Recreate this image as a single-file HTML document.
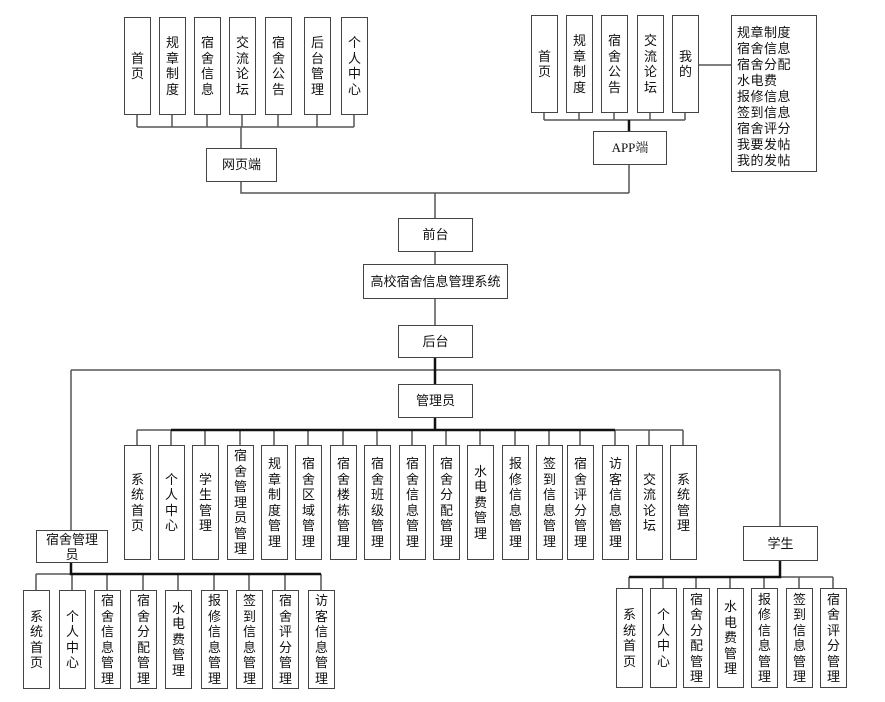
<!DOCTYPE html>
<html><head><meta charset="utf-8"><style>
body{margin:0;width:885px;height:702px;background:#fff;position:relative;overflow:hidden;font-family:"Liberation Sans","Noto Sans CJK SC",sans-serif;font-size:13px;color:#111}
.b{position:absolute;box-sizing:border-box;border:1.5px solid #444;background:#fff;display:flex;align-items:center;justify-content:center;text-align:center;line-height:15.5px}
svg{position:absolute;left:0;top:0}
</style></head><body>
<svg width="885" height="702">
<g stroke="#555" stroke-width="1.5" fill="none">
<!-- web -->
<path d="M137 115V127M172 115V127M207 115V127M242 115V127M278 115V127M317 115V127M354 115V127M137 127H354M241 127V148"/>
<path d="M241 181V193H629M629 164V193M435 193V218M435 251V264M435 298V325"/>
<!-- app -->
<path d="M544 113V120M579 113V120M614 113V120M650 113V120M685 113V120M544 120H685M698 65H731"/>
<!-- backend -->
<path d="M71 370H780M71 370V530M780 370V526"/>
<path d="M137 430V445M171 430V445M205 430V445M240 430V445M274 430V445M308 430V445M343 430V445M377 430V445M412 430V445M446 430V445M480 430V445M515 430V445M549 430V445M580 430V445M615 430V445M649 430V445M683 430V445M137 430H683"/>
<path d="M36 574H321M36 574V590M72 574V590M107 574V590M143 574V590M178 574V590M214 574V590M249 574V590M285 574V590M321 574V590"/>
<path d="M629 577H833M629 577V588M663 577V588M696 577V588M730 577V588M764 577V588M799 577V588M833 577V588"/>
</g>
<g stroke="#111" stroke-width="2.5" fill="none">
<path d="M629 120V131M435 357V384M435 417V430M171 430H615M71 562V574H321M780 560V577H629"/>
</g>
</svg>

<div class="b" style="left:124px;top:17px;width:27px;height:98px">首<br>页</div>
<div class="b" style="left:159px;top:17px;width:27px;height:98px">规<br>章<br>制<br>度</div>
<div class="b" style="left:194px;top:17px;width:27px;height:98px">宿<br>舍<br>信<br>息</div>
<div class="b" style="left:229px;top:17px;width:27px;height:98px">交<br>流<br>论<br>坛</div>
<div class="b" style="left:265px;top:17px;width:27px;height:98px">宿<br>舍<br>公<br>告</div>
<div class="b" style="left:304px;top:17px;width:27px;height:98px">后<br>台<br>管<br>理</div>
<div class="b" style="left:341px;top:17px;width:27px;height:98px">个<br>人<br>中<br>心</div>
<div class="b" style="left:206px;top:148px;width:71px;height:34px">网页端</div>

<div class="b" style="left:531px;top:15px;width:27px;height:98px">首<br>页</div>
<div class="b" style="left:566px;top:15px;width:27px;height:98px">规<br>章<br>制<br>度</div>
<div class="b" style="left:601px;top:15px;width:27px;height:98px">宿<br>舍<br>公<br>告</div>
<div class="b" style="left:637px;top:15px;width:27px;height:98px">交<br>流<br>论<br>坛</div>
<div class="b" style="left:672px;top:15px;width:27px;height:98px">我<br>的</div>
<div class="b" style="left:593px;top:131px;width:74px;height:34px;font-family:'Liberation Serif','Noto Serif CJK SC',serif">APP端</div>
<div class="b" style="left:731px;top:15px;width:86px;height:157px;align-items:flex-start;justify-content:flex-start;text-align:left;padding:9px 0 0 5px;line-height:16px;letter-spacing:0.5px">规章制度<br>宿舍信息<br>宿舍分配<br>水电费<br>报修信息<br>签到信息<br>宿舍评分<br>我要发帖<br>我的发帖</div>

<div class="b" style="left:398px;top:218px;width:75px;height:34px">前台</div>
<div class="b" style="left:363px;top:264px;width:145px;height:35px">高校宿舍信息管理系统</div>
<div class="b" style="left:398px;top:325px;width:75px;height:33px">后台</div>
<div class="b" style="left:398px;top:384px;width:75px;height:34px">管理员</div>

<div class="b" style="left:124px;top:445px;width:27px;height:115px">系<br>统<br>首<br>页</div>
<div class="b" style="left:158px;top:445px;width:27px;height:115px">个<br>人<br>中<br>心</div>
<div class="b" style="left:192px;top:445px;width:27px;height:115px">学<br>生<br>管<br>理</div>
<div class="b" style="left:227px;top:445px;width:27px;height:115px">宿<br>舍<br>管<br>理<br>员<br>管<br>理</div>
<div class="b" style="left:261px;top:445px;width:27px;height:115px">规<br>章<br>制<br>度<br>管<br>理</div>
<div class="b" style="left:295px;top:445px;width:27px;height:115px">宿<br>舍<br>区<br>域<br>管<br>理</div>
<div class="b" style="left:330px;top:445px;width:27px;height:115px">宿<br>舍<br>楼<br>栋<br>管<br>理</div>
<div class="b" style="left:364px;top:445px;width:27px;height:115px">宿<br>舍<br>班<br>级<br>管<br>理</div>
<div class="b" style="left:399px;top:445px;width:27px;height:115px">宿<br>舍<br>信<br>息<br>管<br>理</div>
<div class="b" style="left:433px;top:445px;width:27px;height:115px">宿<br>舍<br>分<br>配<br>管<br>理</div>
<div class="b" style="left:467px;top:445px;width:27px;height:115px">水<br>电<br>费<br>管<br>理</div>
<div class="b" style="left:502px;top:445px;width:27px;height:115px">报<br>修<br>信<br>息<br>管<br>理</div>
<div class="b" style="left:536px;top:445px;width:27px;height:115px">签<br>到<br>信<br>息<br>管<br>理</div>
<div class="b" style="left:567px;top:445px;width:27px;height:115px">宿<br>舍<br>评<br>分<br>管<br>理</div>
<div class="b" style="left:602px;top:445px;width:27px;height:115px">访<br>客<br>信<br>息<br>管<br>理</div>
<div class="b" style="left:636px;top:445px;width:27px;height:115px">交<br>流<br>论<br>坛</div>
<div class="b" style="left:670px;top:445px;width:27px;height:115px">系<br>统<br>管<br>理</div>

<div class="b" style="left:36px;top:530px;width:72px;height:33px;line-height:15px">宿舍管理<br>员</div>
<div class="b" style="left:23px;top:590px;width:27px;height:99px">系<br>统<br>首<br>页</div>
<div class="b" style="left:59px;top:590px;width:27px;height:99px">个<br>人<br>中<br>心</div>
<div class="b" style="left:94px;top:590px;width:27px;height:99px">宿<br>舍<br>信<br>息<br>管<br>理</div>
<div class="b" style="left:130px;top:590px;width:27px;height:99px">宿<br>舍<br>分<br>配<br>管<br>理</div>
<div class="b" style="left:165px;top:590px;width:27px;height:99px">水<br>电<br>费<br>管<br>理</div>
<div class="b" style="left:201px;top:590px;width:27px;height:99px">报<br>修<br>信<br>息<br>管<br>理</div>
<div class="b" style="left:236px;top:590px;width:27px;height:99px">签<br>到<br>信<br>息<br>管<br>理</div>
<div class="b" style="left:272px;top:590px;width:27px;height:99px">宿<br>舍<br>评<br>分<br>管<br>理</div>
<div class="b" style="left:308px;top:590px;width:27px;height:99px">访<br>客<br>信<br>息<br>管<br>理</div>

<div class="b" style="left:743px;top:526px;width:75px;height:35px">学生</div>
<div class="b" style="left:616px;top:588px;width:27px;height:100px">系<br>统<br>首<br>页</div>
<div class="b" style="left:650px;top:588px;width:27px;height:100px">个<br>人<br>中<br>心</div>
<div class="b" style="left:683px;top:588px;width:27px;height:100px">宿<br>舍<br>分<br>配<br>管<br>理</div>
<div class="b" style="left:717px;top:588px;width:27px;height:100px">水<br>电<br>费<br>管<br>理</div>
<div class="b" style="left:751px;top:588px;width:27px;height:100px">报<br>修<br>信<br>息<br>管<br>理</div>
<div class="b" style="left:786px;top:588px;width:27px;height:100px">签<br>到<br>信<br>息<br>管<br>理</div>
<div class="b" style="left:820px;top:588px;width:27px;height:100px">宿<br>舍<br>评<br>分<br>管<br>理</div>
</body></html>
